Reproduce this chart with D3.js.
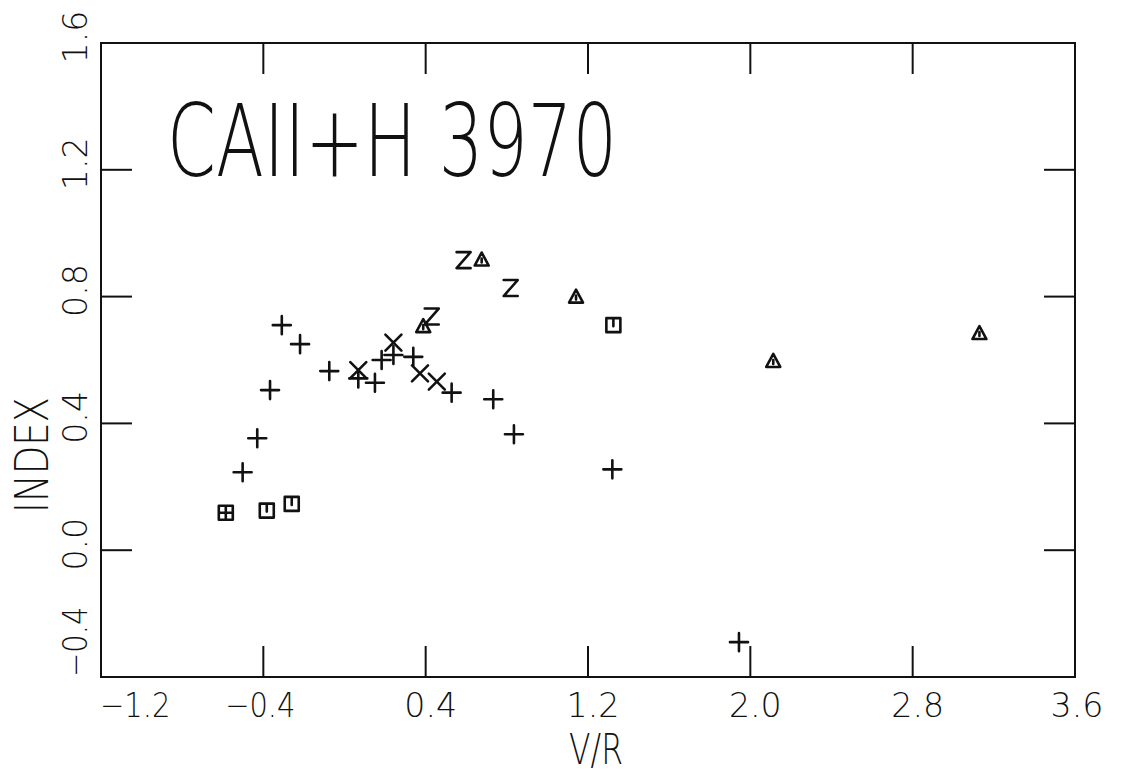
<!DOCTYPE html>
<html>
<head>
<meta charset="utf-8">
<script src="https://cdn.jsdelivr.net/npm/d3@7"></script>
<style>
  html, body { margin: 0; padding: 0; background: #fff; }
  svg { display: block; }
  text { font-family: "DejaVu Sans", sans-serif; font-weight: 200; fill: #111; }
</style>
</head>
<body>
<svg id="chart" width="1127" height="773"></svg>
<script>
// CAII+H 3970 index vs V/R — plotter-style scatter

const xTicks = [-1.2, -0.4, 0.4, 1.2, 2.0, 2.8, 3.6];
const yTicks = [-0.4, 0.0, 0.4, 0.8, 1.2, 1.6];

// "+" symbols
const plusX = [-0.309, -0.219, -0.075, -0.367, -0.430, -0.502, 0.241, 0.183, 0.339, 0.068, 0.150, 0.528, 0.733, 0.835, 1.320, 1.944];
const plusY = [0.710, 0.650, 0.565, 0.505, 0.353, 0.246, 0.616, 0.600, 0.610, 0.542, 0.528, 0.497, 0.476, 0.366, 0.255, -0.290];

// "X" symbols
const crossX = [0.068, 0.241, 0.372, 0.455];
const crossY = [0.568, 0.655, 0.558, 0.532];

// "Z" symbols
const zX = [0.587, 0.819, 0.430];
const zY = [0.915, 0.827, 0.737];

// triangles
const triX = [0.676, 0.388, 1.141, 2.113, 3.129];
const triY = [0.917, 0.707, 0.800, 0.597, 0.685];

// squares with centre mark
const boxX = [-0.383, -0.260, 1.325];
const boxY = [0.125, 0.146, 0.710];

// square with plus
const boxPlusX = [-0.585];
const boxPlusY = [0.118];

const W = 1127, H = 773;
const M = { left: 101, right: 1075, top: 43, bottom: 677 };

const x = d3.scaleLinear().domain([-1.2, 3.6]).range([M.left, M.right]);
const y = d3.scaleLinear().domain([-0.4, 1.6]).range([M.bottom, M.top]);

const svg = d3.select('#chart');
const ink = '#111';

// frame
svg.append('rect')
  .attr('x', M.left).attr('y', M.top)
  .attr('width', M.right - M.left).attr('height', M.bottom - M.top)
  .attr('fill', 'none').attr('stroke', ink).attr('stroke-width', 2);

const TL = 31; // tick length
const inner = xTicks.slice(1, -1);
const innerY = yTicks.slice(1, -1);

// x ticks, top and bottom
const tk = svg.append('g').attr('stroke', ink).attr('stroke-width', 2);
tk.selectAll('.xb').data(inner).join('line').attr('class', 'xb')
  .attr('x1', d => x(d)).attr('x2', d => x(d))
  .attr('y1', M.bottom).attr('y2', M.bottom - TL);
tk.selectAll('.xt').data(inner).join('line').attr('class', 'xt')
  .attr('x1', d => x(d)).attr('x2', d => x(d))
  .attr('y1', M.top).attr('y2', M.top + TL);
// y ticks, left and right
tk.selectAll('.yl').data(innerY).join('line').attr('class', 'yl')
  .attr('y1', d => y(d)).attr('y2', d => y(d))
  .attr('x1', M.left).attr('x2', M.left + TL);
tk.selectAll('.yr').data(innerY).join('line').attr('class', 'yr')
  .attr('y1', d => y(d)).attr('y2', d => y(d))
  .attr('x1', M.right).attr('x2', M.right - TL);

const fmt = d => d < 0 ? '\u2212' + Math.abs(d).toFixed(1) : d.toFixed(1);
const CH = 17.6; // advance per character of the plotter font
// plotter centres the string a little off the tick
const shift = d => d < 0 ? -3 : 5;

// x tick labels (first one starts at the frame edge)
svg.selectAll('.xl').data(xTicks).join('text').attr('class', 'xl')
  .attr('x', (d, i) => i === 0 ? x(d) - 1 : x(d) + (i === xTicks.length - 1 ? 2 : shift(d)))
  .attr('y', 717)
  .attr('font-size', 34)
  .attr('text-anchor', (d, i) => i === 0 ? 'start' : 'middle')
  .attr('textLength', d => fmt(d).length * CH)
  .attr('lengthAdjust', 'spacingAndGlyphs')
  .text(fmt);

// y tick labels (rotated)
svg.selectAll('.ylab').data(yTicks).join('text').attr('class', 'ylab')
  .attr('transform', (d, i) => `translate(87,${i === 0 ? y(d) : y(d) - 6}) rotate(-90)`)
  .attr('font-size', 34)
  .attr('text-anchor', (d, i) => i === 0 ? 'start' : 'middle')
  .attr('textLength', d => fmt(d).length * CH)
  .attr('lengthAdjust', 'spacingAndGlyphs')
  .text(fmt);

// axis titles
svg.append('text')
  .attr('x', 596).attr('y', 764)
  .attr('font-size', 43)
  .attr('text-anchor', 'middle')
  .attr('textLength', 54).attr('lengthAdjust', 'spacingAndGlyphs')
  .text('V/R');

svg.append('text')
  .attr('transform', 'translate(48,455) rotate(-90)')
  .attr('font-size', 46)
  .attr('text-anchor', 'middle')
  .attr('textLength', 116).attr('lengthAdjust', 'spacingAndGlyphs')
  .text('INDEX');

// panel title
svg.append('text')
  .attr('x', 167).attr('y', 176)
  .attr('font-size', 100)
  .attr('textLength', 450).attr('lengthAdjust', 'spacingAndGlyphs')
  .text('CAII+H 3970');

// symbols
const pts = (xs, ys) => xs.map((v, i) => ({ x: v, y: ys[i] }));
const mk = svg.append('g')
  .attr('fill', 'none').attr('stroke', ink)
  .attr('stroke-width', 2.6).attr('stroke-linecap', 'round').attr('stroke-linejoin', 'round');

const sym = {
  plus: 'M-9,0H9M0,-9V9',
  cross: 'M-8,-8L8,8M-8,8L8,-8',
  z: 'M-7,-8H7L-7,8H7',
  tri: 'M-7,6L0,-7L7,6Z M0,-1V3',
  box: 'M-7,-7H7V7H-7Z M0,-7V1',
  boxPlus: 'M-7,-7H7V7H-7Z M0,-7V7M-7,0H7'
};

function drawSet(cls, xs, ys, d) {
  mk.selectAll('.' + cls).data(pts(xs, ys)).join('path')
    .attr('class', cls)
    .attr('transform', p => `translate(${x(p.x)},${y(p.y)})`)
    .attr('d', d);
}

drawSet('plus', plusX, plusY, sym.plus);
drawSet('cross', crossX, crossY, sym.cross);
drawSet('z', zX, zY, sym.z);
drawSet('tri', triX, triY, sym.tri);
drawSet('box', boxX, boxY, sym.box);
drawSet('boxPlus', boxPlusX, boxPlusY, sym.boxPlus);
</script>
</body>
</html>
